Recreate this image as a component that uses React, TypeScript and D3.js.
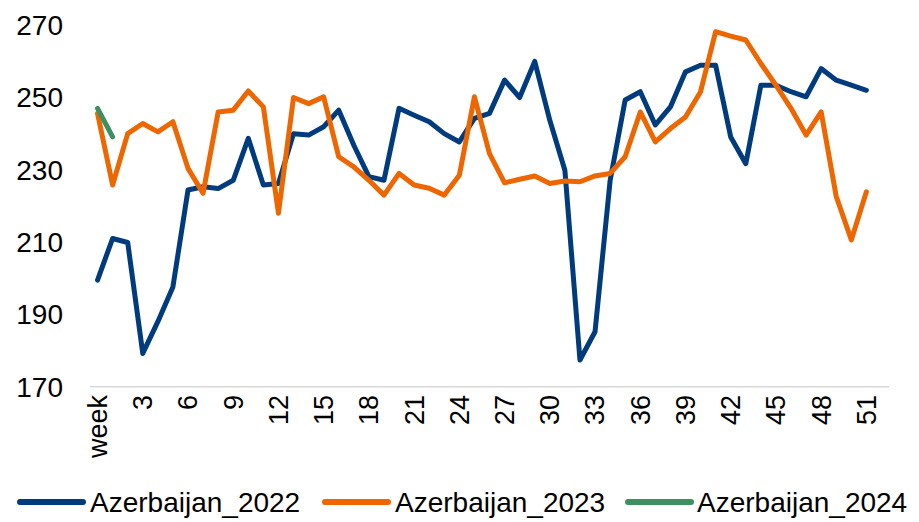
import React from "react";
import * as d3 from "d3";

const categories: string[] = ["week", ...d3.range(1, 53).map(String)];
const yTicks = [170, 190, 210, 230, 250, 270];

const az2022 = [
  199.5, 211, 209.9, 179.2, 188, 197.6, 224.4, 225.3, 224.8, 227.1,
  238.7, 225.8, 226.2, 240, 239.6, 241.9, 246.5, 236.8, 228.1, 227.1,
  247, 245.1, 243.3, 240, 237.7, 244.2, 245.6, 254.8, 250, 260,
  243.7, 229.9, 177.4, 185.2, 227, 249.3, 251.6, 242.4, 247.4, 257.1,
  258.9, 258.9, 239.1, 231.7, 253.4, 253.4, 251.6, 250.2, 258, 254.8,
  253.4, 252,
];
const az2023 = [
  245.6, 225.8, 240, 242.8, 240.5, 243.3, 230.4, 223.5, 246, 246.5,
  251.8, 247.4, 218, 250, 248.3, 250.2, 233.6, 230.8, 227.1, 223,
  229, 225.8, 224.9, 223, 228.5, 250.2, 234.5, 226.4, 227.4, 228.3,
  226.2, 226.9, 226.7, 228.3, 229, 233.6, 246, 237.7, 241.4, 244.6,
  251.6, 268.2, 267, 265.9, 259.4, 253.4, 247, 239.6, 246, 222.6,
  210.6, 223.9,
];
const az2024 = [247, 239.1];

const seriesNames = ["Azerbaijan_2022", "Azerbaijan_2023", "Azerbaijan_2024"];
const seriesData = [az2022, az2023, az2024];
const colors = ["#003C7D", "#EE6600", "#3F9060"];

const W = 919;
const H = 522;
const FONT = "'Liberation Sans', Arial, sans-serif";

export default function App() {
  const x = d3.scaleBand<string>().domain(categories).range([90, 889]);
  const y = d3.scaleLinear().domain([170, 270]).range([386.7, 25.2]);
  const cx = (i: number) => (x(categories[i]) as number) + x.bandwidth() / 2;
  const line = d3
    .line<number>()
    .x((_, i) => cx(i))
    .y((d) => y(d));

  const xLabels = categories.filter((_, i) => i % 3 === 0);

  const legendItems = [
    { lx: 20, tx: 90 },
    { lx: 325, tx: 395 },
    { lx: 628, tx: 697 },
  ];

  return (
    <svg
      width={W}
      height={H}
      style={{ position: "absolute", left: 0, top: 0, background: "#fff" }}
      fontFamily={FONT}
    >
      {yTicks.map((t) => (
        <text
          key={t}
          x={63}
          y={y(t)}
          dy="0.35em"
          textAnchor="end"
          fontSize={28}
          fill="#000"
        >
          {t}
        </text>
      ))}
      <line x1={90} x2={889} y1={y(170)} y2={y(170)} stroke="#D9D9D9" strokeWidth={1.5} />
      {xLabels.map((c) => {
        const px = (x(c) as number) + x.bandwidth() / 2;
        return (
          <text
            key={c}
            transform={`translate(${px},${395}) rotate(-90)`}
            dy="0.35em"
            textAnchor="end"
            fontSize={27}
            fill="#000"
          >
            {c}
          </text>
        );
      })}
      {seriesData.map((d, k) => (
        <path
          key={k}
          d={line(d) as string}
          fill="none"
          stroke={colors[k]}
          strokeWidth={5}
          strokeLinejoin="round"
          strokeLinecap="round"
        />
      ))}
      {seriesNames.map((n, k) => (
        <g key={n}>
          <line
            x1={legendItems[k].lx}
            x2={legendItems[k].lx + 63}
            y1={502}
            y2={502}
            stroke={colors[k]}
            strokeWidth={6}
            strokeLinecap="round"
          />
          <text x={legendItems[k].tx} y={502} dy="0.35em" fontSize={28} fill="#000">
            {n}
          </text>
        </g>
      ))}
    </svg>
  );
}
